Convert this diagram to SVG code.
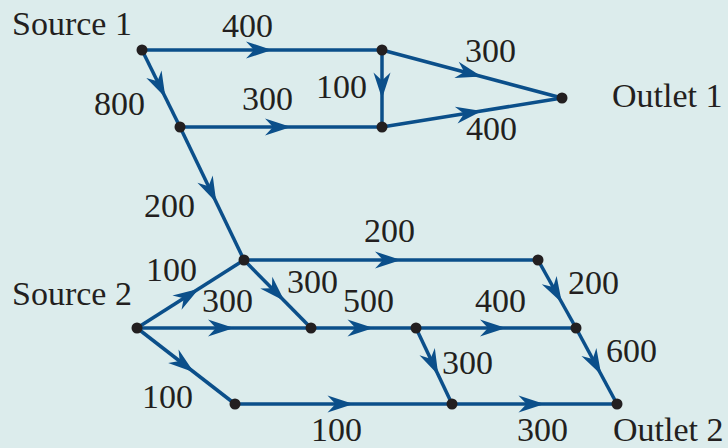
<svg xmlns="http://www.w3.org/2000/svg" width="728" height="448" viewBox="0 0 728 448">
<style>
.e{fill:none;stroke:#0b4f8a;stroke-width:3.5;marker-mid:url(#ah)}
.n{fill:#231f20}
text{font-family:"Liberation Serif","Times New Roman",serif;font-size:34px;fill:#231f20}
</style>
<defs>
<marker id="ah" markerUnits="userSpaceOnUse" orient="auto" overflow="visible" refX="0" refY="0" markerWidth="1" markerHeight="1">
<path d="M10,0 L-16,-8.5 L-8,0 L-16,8.5 Z" fill="#0b4f8a"/>
</marker>
</defs>
<rect width="728" height="448" fill="#dcecec"/>
<g id="connectors">
<path class="e" d="M142,50 L262,50 L382,50"/>
<path class="e" d="M142,50 L161,88.5 L180,127"/>
<path class="e" d="M180,127 L281,127 L382,127"/>
<path class="e" d="M382,50 L382,88.5 L382,127"/>
<path class="e" d="M382,50 L472,74 L562,98"/>
<path class="e" d="M382,127 L472,112.5 L562,98"/>
<path class="e" d="M180,127 L212,193.5 L244,260"/>
<path class="e" d="M244,260 L391,260 L538,260"/>
<path class="e" d="M137,328 L190.5,294 L244,260"/>
<path class="e" d="M137,328 L224,328 L311,328"/>
<path class="e" d="M244,260 L277.5,294 L311,328"/>
<path class="e" d="M311,328 L363.5,328 L416,328"/>
<path class="e" d="M416,328 L496,328 L576,328"/>
<path class="e" d="M538,260 L557,294 L576,328"/>
<path class="e" d="M416,328 L434,366 L452,404"/>
<path class="e" d="M576,328 L596.5,366 L617,404"/>
<path class="e" d="M137,328 L186,366 L235,404"/>
<path class="e" d="M235,404 L343.5,404 L452,404"/>
<path class="e" d="M452,404 L534.5,404 L617,404"/>
</g>
<g id="source1"><circle class="n" cx="142" cy="50" r="5.5"/><text x="12" y="35">Source 1</text></g>
<g id="nodeA"><circle class="n" cx="382" cy="50" r="5.5"/></g>
<g id="nodeB"><circle class="n" cx="180" cy="127" r="5.5"/></g>
<g id="nodeC"><circle class="n" cx="382" cy="127" r="5.5"/></g>
<g id="outlet1"><circle class="n" cx="562" cy="98" r="5.5"/><text x="612" y="107">Outlet 1</text></g>
<g id="nodeD"><circle class="n" cx="244" cy="260" r="5.5"/></g>
<g id="source2"><circle class="n" cx="137" cy="328" r="5.5"/><text x="12" y="305">Source 2</text></g>
<g id="nodeE"><circle class="n" cx="311" cy="328" r="5.5"/></g>
<g id="nodeF"><circle class="n" cx="416" cy="328" r="5.5"/></g>
<g id="nodeG"><circle class="n" cx="576" cy="328" r="5.5"/></g>
<g id="nodeH"><circle class="n" cx="538" cy="260" r="5.5"/></g>
<g id="nodeI"><circle class="n" cx="235" cy="404" r="5.5"/></g>
<g id="nodeJ"><circle class="n" cx="452" cy="404" r="5.5"/></g>
<g id="outlet2"><circle class="n" cx="617" cy="404" r="5.5"/><text x="613" y="441">Outlet 2</text></g>
<g id="labels">
<text x="222" y="37">400</text>
<text x="94" y="115">800</text>
<text x="242" y="110">300</text>
<text x="316" y="98">100</text>
<text x="144" y="217">200</text>
<text x="465" y="62">300</text>
<text x="466" y="140">400</text>
<text x="364" y="242">200</text>
<text x="146" y="281">100</text>
<text x="202" y="312">300</text>
<text x="287" y="293">300</text>
<text x="343" y="312">500</text>
<text x="475" y="312">400</text>
<text x="568" y="294">200</text>
<text x="442" y="374">300</text>
<text x="606" y="362">600</text>
<text x="142" y="408">100</text>
<text x="311" y="441">100</text>
<text x="517" y="441">300</text>
</g>
</svg>
